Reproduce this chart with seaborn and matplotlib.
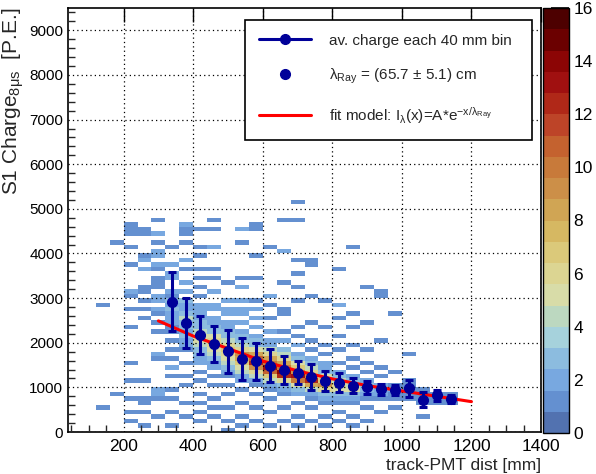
import numpy as np
import pandas as pd
import matplotlib
matplotlib.use("Agg")
import matplotlib.pyplot as plt
import matplotlib.ticker as mtick
from matplotlib.colors import ListedColormap
from matplotlib.lines import Line2D
import seaborn as sns

# 2D histogram: per 40 mm column (left edge) -> "ybin(x100 P.E.):count"
hist_cols = {
    120: "28:1 5:1",
    160: "42:1 8:1",
    200: "46:1 45:1 44:1 41:1 37:1 31:2 30:1 27:1 23:1 15:1 11:1 7:1 4:1 2:1",
    240: "45:1 44:1 39:1 38:2 36:2 32:1 31:1 29:1 27:1 25:1 11:1 7:1 6:1 4:1 1:1",
    280: "47:1 44:2 42:1 40:2 39:2 37:2 36:1 34:1 33:1 32:1 30:2 29:2 27:2 26:1 24:1 22:1 17:2 16:1 9:2 8:2 7:1 3:1",
    320: "41:1 37:2 35:2 34:2 31:2 30:1 29:3 28:2 27:3 26:2 25:2 24:2 23:1 22:1 20:1 18:1 16:1 14:2 12:1 9:1 7:1 4:1 1:1",
    360: "46:2 45:1 44:1 42:1 38:2 36:1 33:2 31:2 29:3 28:2 27:2 26:3 25:4 24:3 23:3 22:2 21:3 20:2 19:2 18:1 15:1 12:1 10:1 6:1 3:1",
    400: "45:1 41:1 39:1 36:1 34:1 32:1 30:1 28:2 27:2 26:2 25:2 24:3 23:3 22:4 21:5 20:5 19:4 18:3 17:3 16:2 15:2 13:1 11:1 8:1 6:1 4:1 2:1",
    440: "47:1 45:1 41:2 36:1 34:1 31:2 28:2 27:2 25:2 24:2 23:3 22:3 21:5 20:6 19:6 18:5 17:4 16:3 15:2 14:2 12:1 10:1 7:1 5:1 3:1",
    480: "33:1 29:2 27:2 26:2 24:2 23:2 22:3 21:3 20:4 19:6 18:7 17:6 16:5 15:4 14:3 13:2 12:1 10:1 8:1 5:1 2:1 0:1",
    520: "45:2 42:1 34:1 32:2 29:2 27:2 26:2 24:2 22:2 21:3 20:3 19:4 18:6 17:9 16:8 15:7 14:5 13:4 12:2 11:2 9:1 6:1 3:1 1:1",
    560: "46:1 45:1 39:1 34:1 29:1 27:2 25:2 23:2 21:2 20:3 19:3 18:5 17:8 16:11 15:12 14:9 13:6 12:4 11:2 10:1 8:1 5:1 2:1",
    600: "41:1 30:2 28:1 25:1 22:2 20:2 19:2 18:4 17:6 16:8 15:10 14:13 13:11 12:7 11:4 10:2 9:1 7:1 4:1 1:1",
    640: "47:1 40:2 33:1 27:1 26:1 22:1 20:2 18:3 17:4 16:6 15:8 14:10 13:14 12:12 11:6 10:3 9:2 8:1 5:1 2:1",
    680: "51:1 47:1 38:1 35:1 32:1 29:1 23:1 21:1 19:2 17:2 16:3 15:5 14:7 13:9 12:13 11:10 10:5 9:3 8:2 6:1 3:1 1:1",
    720: "38:1 37:1 30:1 24:1 20:1 18:1 16:2 15:3 14:4 13:6 12:9 11:12 10:8 9:4 8:2 7:1 5:1 2:1",
    760: "29:1 23:1 19:1 17:1 15:2 14:2 13:3 12:5 11:7 10:9 9:6 8:3 7:2 6:1 3:1 1:1",
    800: "36:1 28:2 25:1 21:1 18:1 15:1 13:2 12:3 11:4 10:6 9:5 8:3 7:2 6:1 4:1 2:1",
    840: "41:1 26:1 23:1 19:1 16:1 14:1 12:2 11:3 10:4 9:5 8:3 7:2 6:1 3:1 1:1",
    880: "32:1 24:1 18:1 15:1 13:1 11:2 10:3 9:3 8:2 7:1 5:1 2:1",
    920: "31:1 30:1 20:1 14:1 12:1 10:2 9:2 8:2 7:1 4:1",
    960: "26:1 13:1 10:1 9:2 8:1 7:1 5:1",
    1000: "17:1 11:1 10:1 9:1 8:1 7:1",
    1040: "9:1 8:1 7:1 6:1 3:1",
    1080: "8:1 7:1 6:1",
    1120: "8:1 7:1 6:1",
}

# profile: average charge in each 40 mm bin
prof_x = [340, 380, 420, 460, 500, 540, 580, 620, 660, 700, 740,
          780, 820, 860, 900, 940, 980, 1020, 1060, 1100, 1140]
prof_y = [2920, 2450, 2170, 1975, 1810, 1640, 1580, 1488, 1395, 1330, 1230,
          1145, 1100, 1040, 1000, 956, 941, 978, 720, 820, 735]
prof_err = [665, 560, 420, 400, 480, 477, 420, 362, 318, 250, 285,
            216, 213, 170, 150, 130, 110, 187, 168, 131, 90]

# fit model
fit_x = [300, 400, 500, 600, 700, 800, 900, 1000, 1100, 1200]
fit_y = [2490, 2150, 1870, 1590, 1370, 1190, 1040, 920, 800, 680]

cbar_colors = ["#5272b0", "#6490d0", "#78a8e0", "#8cbcdf", "#a6d2dc",
               "#bcd8c0", "#d8dca8", "#dcd592", "#dbc97a", "#d6b862",
               "#d0a554", "#cc8f48", "#c87a3a", "#c4622f", "#bd4428",
               "#b02818", "#a01010", "#8c0505", "#6b0000", "#4d0000"]

# build cell table
rows = []
for x0, s in hist_cols.items():
    for item in s.split():
        k, n = item.split(":")
        rows.append({"x": x0 + 20, "y": int(k) * 100 + 50, "n": int(n)})
cells = pd.DataFrame(rows)

sns.set_theme(style="white")
plt.rcParams["font.family"] = ["Liberation Sans", "DejaVu Sans"]
plt.rcParams["mathtext.fontset"] = "custom"
plt.rcParams["mathtext.rm"] = "Liberation Sans"
plt.rcParams["mathtext.it"] = "Liberation Sans:italic"
plt.rcParams["mathtext.default"] = "regular"

fig = plt.figure(figsize=(5.96, 4.74), dpi=100)
ax = fig.add_axes([68 / 596, 1 - 432 / 474, 473 / 596, 424 / 474])
cax = fig.add_axes([543 / 596, 1 - 433 / 474, 26 / 596, 425 / 474])

cmap = ListedColormap(cbar_colors)
sns.histplot(data=cells, x="x", y="y", weights="n", binwidth=(40, 100),
             binrange=((40, 1400), (0, 9500)), cmap=cmap, vmax=16,
             cbar=True, cbar_ax=cax, ax=ax)

# fit line and profile
sns.lineplot(x=fit_x, y=fit_y, color="#ff0000", lw=2.2, ax=ax, zorder=3)
ax.errorbar(prof_x, prof_y, yerr=prof_err, fmt="o", color="#000099",
            ms=7, lw=2.2, capsize=3, capthick=2.2, zorder=4)

ax.set_xlim(40, 1400)
ax.set_ylim(0, 9500)
ax.xaxis.set_major_locator(mtick.MultipleLocator(200))
ax.xaxis.set_minor_locator(mtick.MultipleLocator(50))
ax.yaxis.set_major_locator(mtick.MultipleLocator(1000))
ax.yaxis.set_minor_locator(mtick.MultipleLocator(200))
ax.grid(True, which="major", color="black", ls=(0, (1, 2.5)), lw=0.9)
ax.set_axisbelow(False)
ax.tick_params(which="major", direction="in", length=10, width=1,
               top=True, labelsize=12.5, colors="black", pad=5)
ax.tick_params(which="minor", direction="in", length=5, width=1,
               top=False, bottom=True, left=True)
ax.tick_params(axis="y", labelsize=11, pad=3.5)
for sp in ax.spines.values():
    sp.set_color("black")
    sp.set_linewidth(1.2)

ax.set_xlabel("track-PMT dist [mm]", fontsize=12.5, loc="right", labelpad=3)
ax.set_ylabel(r"S1 Charge$_{8\mu s}$  [P.E.]", fontsize=15, loc="top")
ax.yaxis.set_label_coords(-0.088, 1.0)

# colorbar styling
cax.set_ylim(0, 16)
cax.yaxis.set_major_locator(mtick.MultipleLocator(2))
cax.tick_params(direction="in", length=13, width=1.2, labelsize=12.5,
                colors="black", pad=3)
cax.yaxis.set_ticks_position("right")
for sp in cax.spines.values():
    sp.set_color("black")
    sp.set_linewidth(1)

handles = [
    Line2D([], [], color="#000099", marker="o", ms=7, lw=2.2),
    Line2D([], [], color="#000099", marker="o", ms=7, lw=0),
    Line2D([], [], color="#ff0000", lw=2.2),
]
labels = [
    "av. charge each 40 mm bin",
    r"$\lambda_{Ray}$ = (65.7 $\pm$ 5.1) cm",
    r"fit model: I$_{\lambda}$(x)=A*e$^{-x/\lambda_{Ray}}$",
]
leg = ax.legend(handles, labels, loc="upper left",
                bbox_to_anchor=(0.374, 0.724, 0.607, 0.248), mode="expand",
                fontsize=11, frameon=True, fancybox=False, edgecolor="black",
                framealpha=1, handlelength=3.4, handletextpad=1.2,
                labelspacing=1.25, borderpad=0.9, borderaxespad=0)
leg.get_frame().set_linewidth(1.2)

fig.savefig("out.png", dpi=100)
